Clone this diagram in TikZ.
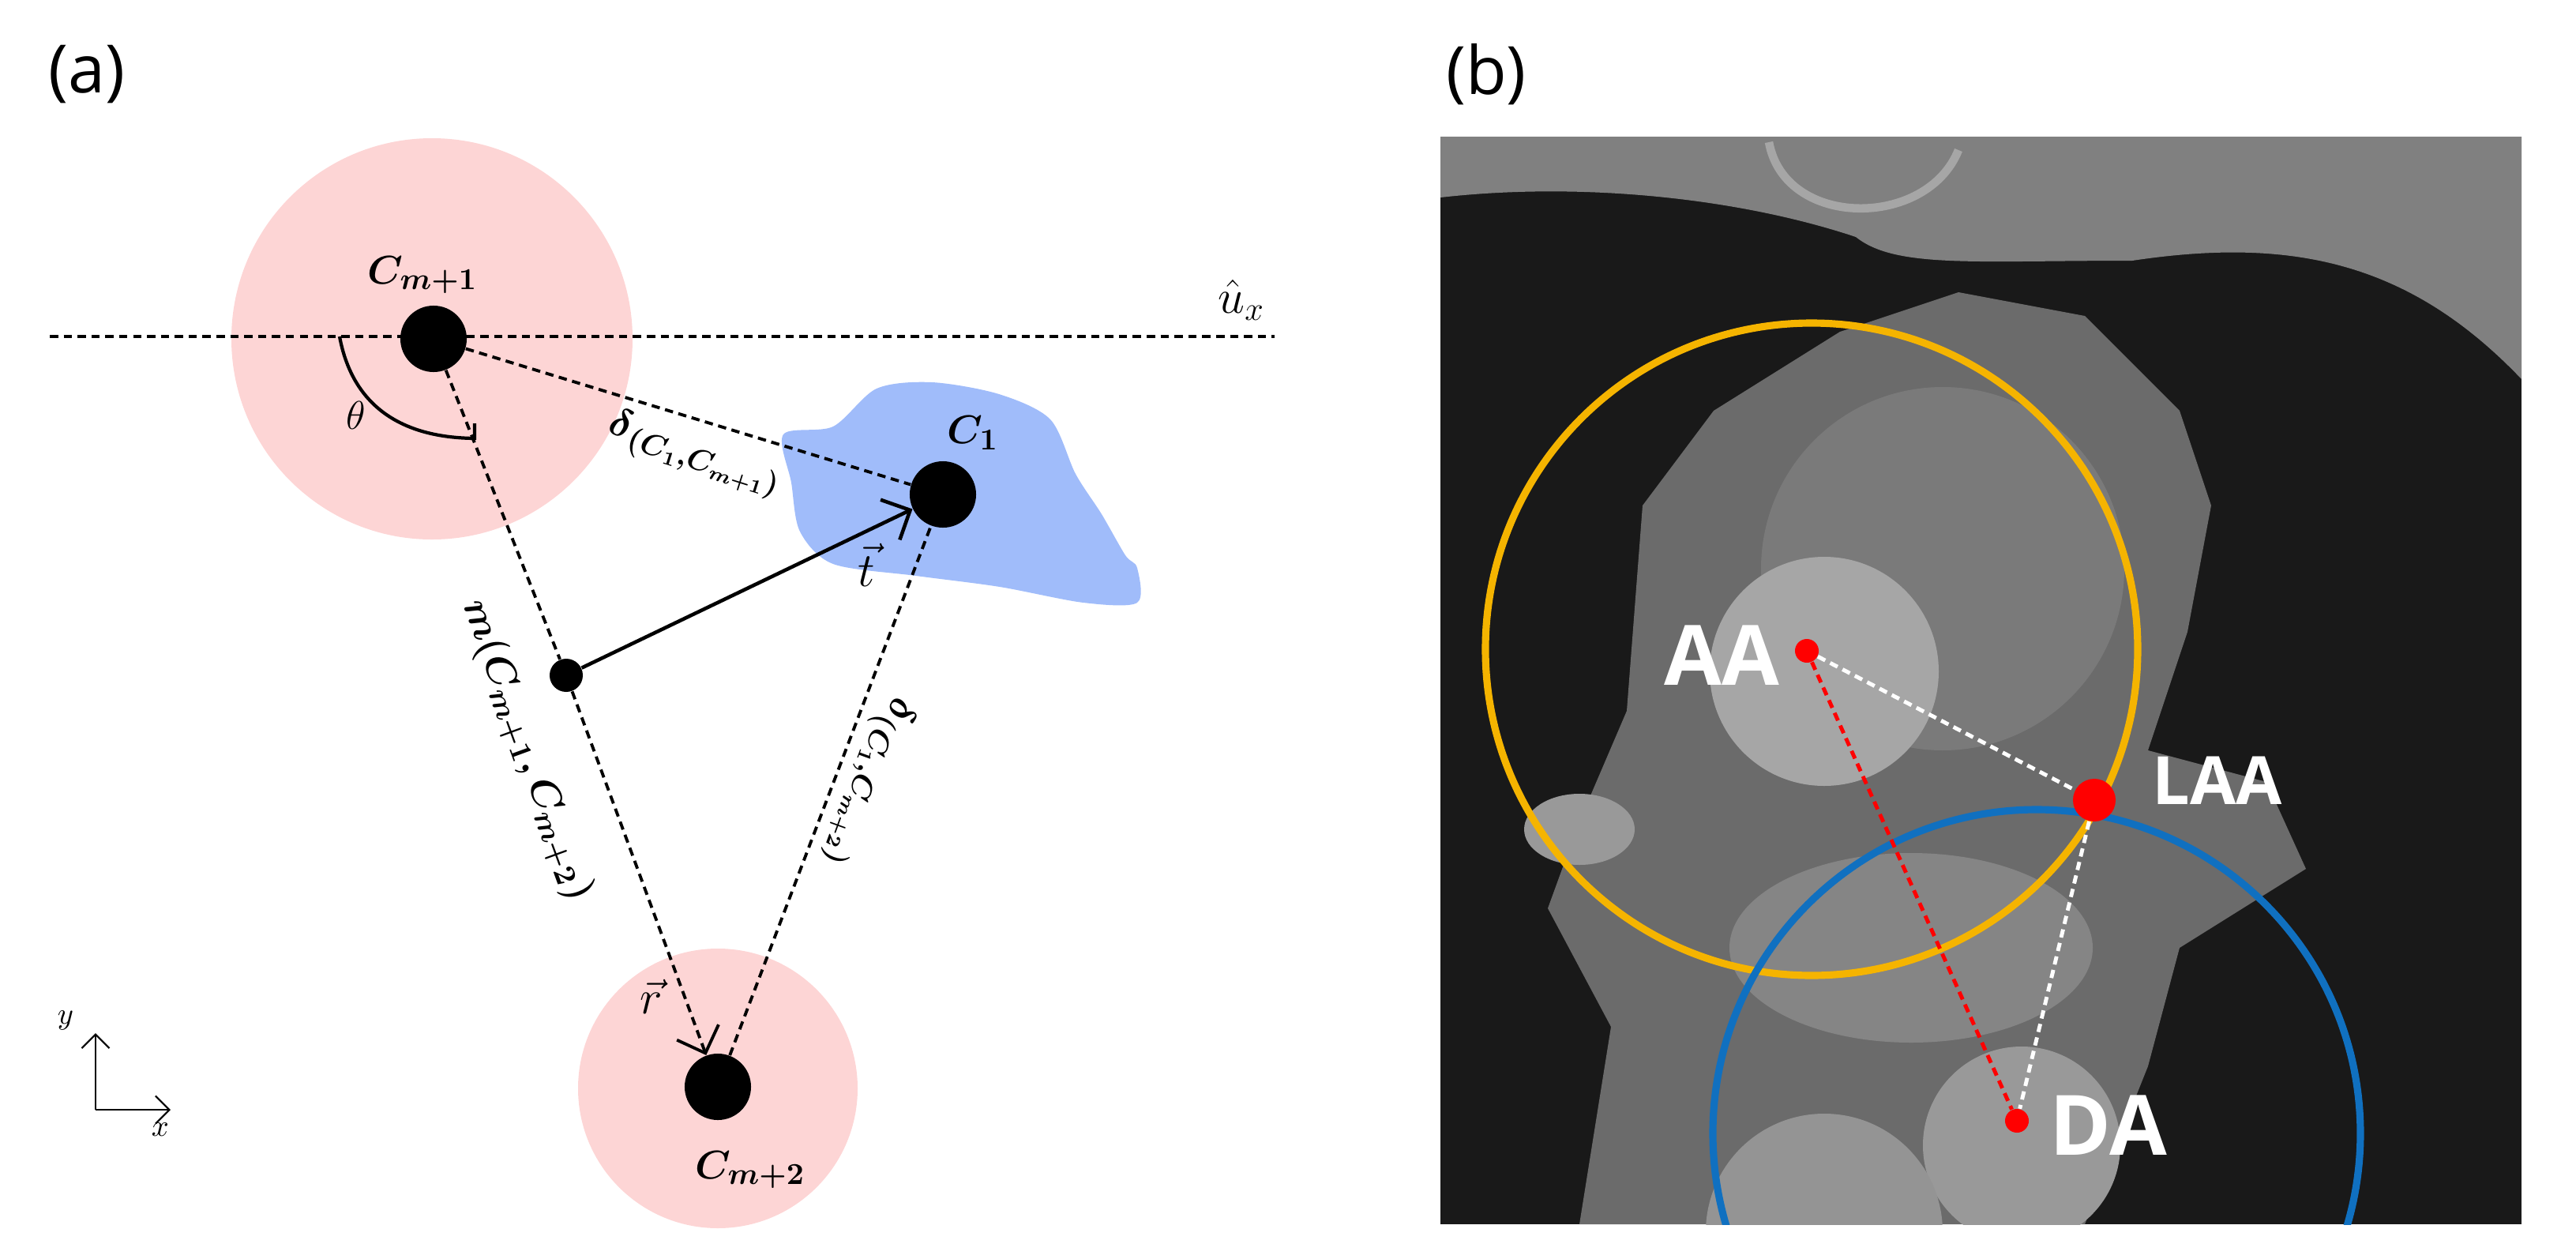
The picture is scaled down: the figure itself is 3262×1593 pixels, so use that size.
\documentclass[tikz,border=0pt]{standalone}
\usepackage{fontspec}
\usepackage{amsmath}
\newfontfamily\sansf{Open Sans}
\usetikzlibrary{arrows.meta}
\definecolor{pinkc}{HTML}{FDD5D5}
\definecolor{bluec}{HTML}{A0BCFA}
\definecolor{orc}{HTML}{F5B400}
\definecolor{blc}{HTML}{1070C0}
\tikzset{
 dot/.style={circle,fill=black,inner sep=0pt},
 lab/.style={font=\fontsize{15}{17}\selectfont},
 dsh/.style={densely dashed,line width=1.1pt},
 ctlab/.style={text=white,font=\sansf\bfseries},
 rdot/.style={circle,fill=red,inner sep=0pt}
}
\begin{document}
\begin{tikzpicture}[x=0.01cm,y=-0.01cm]
\useasboundingbox (0,0) rectangle (3262,1593);
% ---------- panel a ----------
\node[font=\sansf\fontsize{24}{26}\selectfont] (la) at (110,94) {(a)};
\fill[pinkc] (547,429) circle (254);
\fill[pinkc] (909,1378) circle (177);
\fill[bluec] plot[smooth cycle,tension=0.5] coordinates{(992,550) (1055,540) (1110,492) (1180,484) (1265,499) (1330,531) (1362,600) (1395,651) (1425,703) (1440,719) (1440,763) (1372,763) (1266,743) (1160,729) (1055,714) (1013,673) (1002,611)};
\node[dot,minimum size=0.84cm] (cm1) at (549,429) {};
\node[dot,minimum size=0.84cm] (cm2) at (909,1376) {};
\node[dot,minimum size=0.84cm] (c1) at (1194,626) {};
\node[dot,minimum size=0.42cm] (m) at (717,855) {};
\coordinate (ul) at (63,426);
\coordinate (ur) at (1614,426);
\draw[dsh] (ul) -- (ur);
\draw[dsh] (cm1) -- (c1);
\draw[dsh] (cm1) -- (m);
\draw[dsh,-{Straight Barb[length=8pt]}] (m) -- (cm2);
\draw[dsh] (cm2) -- (c1);
\draw[line width=1.3pt,-{Straight Barb[length=8pt]}] (m) -- (c1);
\draw[line width=1.2pt] (430,426) .. controls (445,507) and (500,554) .. (601,555) -- (601,536);
\node[lab] (th) at (451,526) {$\theta$};
\node[lab] (lcm1) at (535,348) {$\boldsymbol{C_{m+1}}$};
\node[lab] (lcm2) at (950,1481) {$\boldsymbol{C_{m+2}}$};
\node[lab] (lc1) at (1232,548) {$\boldsymbol{C_{1}}$};
\node[font=\fontsize{18}{20}\selectfont] (lux) at (1572,380) {$\hat{u}_x$};
\node[lab,rotate=-17.5] (ld1) at (880,575) {$\boldsymbol{\delta}_{\boldsymbol{(C_1,C_{m+1})}}$};
\node[lab,rotate=-70] (lm) at (667,950) {$\boldsymbol{m(C_{m+1},C_{m+2})}$};
\node[lab,rotate=-110] (ld2) at (1100,990) {$\boldsymbol{\delta}_{\boldsymbol{(C_1,C_{m+2})}}$};
\node[font=\fontsize{18}{20}\selectfont] (lt) at (1097,715) {$\vec{t}$};
\node[font=\fontsize{18}{20}\selectfont] (lr) at (825,1262) {$\vec{r}$};
\coordinate (o) at (121,1405);
\coordinate (oy) at (121,1308);
\coordinate (ox) at (216,1405);
\draw[-{Straight Barb[length=5pt]},line width=0.6pt] (o) -- (oy);
\draw[-{Straight Barb[length=5pt]},line width=0.6pt] (o) -- (ox);
\node[font=\fontsize{11}{12}\selectfont] (ly) at (83,1292) {$y$};
\node[font=\fontsize{11}{12}\selectfont] (lx) at (203,1430) {$x$};
% ---------- panel b ----------
\node[font=\sansf\fontsize{24}{26}\selectfont] (lb) at (1882,94) {(b)};
\begin{scope}
\clip (1824,173) rectangle (3193,1550);
\fill[black!90] (1824,173) rectangle (3193,1550);
\fill[black!50] (1824,173) -- (3193,173) -- (3193,480) .. controls (3050,330) and (2900,300) .. (2700,330) .. controls (2500,330) and (2400,340) .. (2350,300) .. controls (2200,250) and (2000,230) .. (1824,250) -- cycle;
\draw[black!35,line width=3pt] (2240,180) .. controls (2260,290) and (2440,290) .. (2480,190);
\fill[black!58] (2080,640) -- (2170,520) -- (2330,420) -- (2480,370) -- (2640,400) -- (2760,520) -- (2800,640) -- (2770,800) -- (2720,950) -- (2870,990) -- (2920,1100) -- (2760,1200) -- (2720,1350) -- (2640,1550) -- (2000,1550) -- (2040,1300) -- (1960,1150) -- (2000,1040) -- (2060,900) -- cycle;
\fill[black!52] (2460,720) circle (230);
\fill[black!48] (2420,1200) ellipse (230 and 120);
\fill[black!35] (2310,850) circle (145);
\fill[black!40] (2560,1450) circle (125);
\fill[black!42] (2310,1560) circle (150);
\fill[black!40] (2000,1050) ellipse (70 and 45);
\end{scope}
\draw[orc,line width=2.6pt] (2294,822) circle (413);
\begin{scope}
\clip (1824,173) rectangle (3193,1550);
\draw[blc,line width=2.6pt] (2579,1435) circle (410);
\end{scope}
\node[rdot,minimum size=0.3cm] (aa) at (2288,824) {};
\node[rdot,minimum size=0.54cm] (laa) at (2652,1013) {};
\node[rdot,minimum size=0.3cm] (da) at (2554,1419) {};
\draw[white,dsh,line width=1.4pt] (aa) -- (laa);
\draw[white,dsh,line width=1.4pt] (laa) -- (da);
\draw[red,dsh,line width=1.4pt] (aa) -- (da);
\node[ctlab,font=\sansf\bfseries\fontsize{30}{32}\selectfont] (laal) at (2180,830) {AA};
\node[ctlab,font=\sansf\bfseries\fontsize{24}{26}\selectfont] (llaa) at (2808,988) {LAA};
\node[ctlab,font=\sansf\bfseries\fontsize{30}{32}\selectfont] (ldal) at (2670,1425) {DA};
\end{tikzpicture}
\end{document}
